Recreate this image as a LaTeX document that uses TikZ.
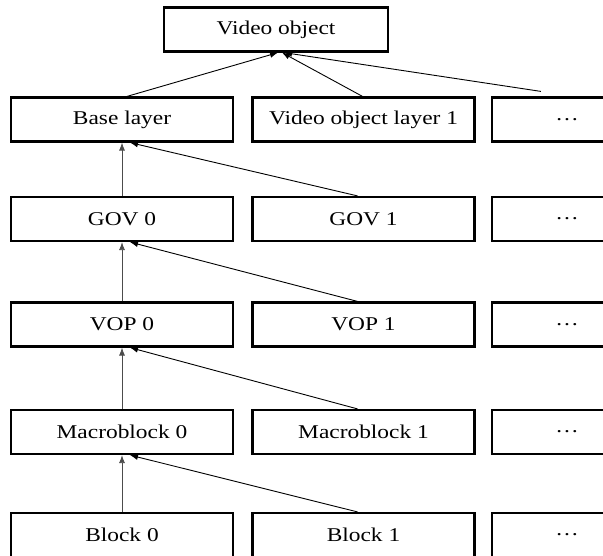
\documentclass[tikz,border=0pt]{standalone}
\usepackage{fontspec}
\setmainfont[FakeStretch=1.2]{Liberation Serif}
\usepackage{tikz}
\usetikzlibrary{arrows.meta}

\begin{document}
\begin{tikzpicture}[x=1pt, y=-1pt,
    every node/.style={font=\fontsize{19.5}{22}\selectfont},
    box/.style={draw, line width=2.2pt, minimum width=222pt, minimum height=44pt, inner sep=0pt},
    more/.style={box, minimum width=150pt},
    link/.style={line width=0.9pt, -{Latex[length=8pt,width=6pt]}},
    up/.style={link, draw=black!70, line width=0.8pt}]
    \useasboundingbox (0,0) rectangle (603,555);
    \clip (0,0) rectangle (603,555);
    % top level
    \node[box, minimum width=224pt] (vo) at (276,29.5) {Video object};
    \node[box] (layer0) at (122,119.5) {Base layer};
    \node[box] (layer1) at (363.5,119.5) {Video object layer 1};
    \node[more] (layer2) at (567,119.5) {\dots};
    % lower levels
    \foreach \y/\nm/\txt in {219/gov/GOV, 324.5/vop/VOP, 432/mb/Macroblock, 535/blk/Block}
    {
        \node[box] (\nm0) at (122,\y) {\txt\ 0};
        \node[box] (\nm1) at (363.5,\y) {\txt\ 1};
        \node[more] (\nm2) at (567,\y) {\dots};
    }
    % connectors
    \draw[link] ([xshift=5pt]layer0.north) -- ([xshift=2pt]vo.south);
    \draw[link] ([xshift=-1pt]layer1.north) -- ([xshift=6pt]vo.south);
    \draw[link] ([xshift=50pt,yshift=5pt]layer2.north west) -- ([xshift=8pt]vo.south);
    \foreach \lo/\hi in {gov/layer, vop/gov, mb/vop, blk/mb}
    {
        \draw[up] (\lo0.north) -- (\hi0.south);
        \draw[link] ([xshift=-6pt]\lo1.north) -- ([xshift=8pt]\hi0.south);
    }
\end{tikzpicture}
\end{document}
